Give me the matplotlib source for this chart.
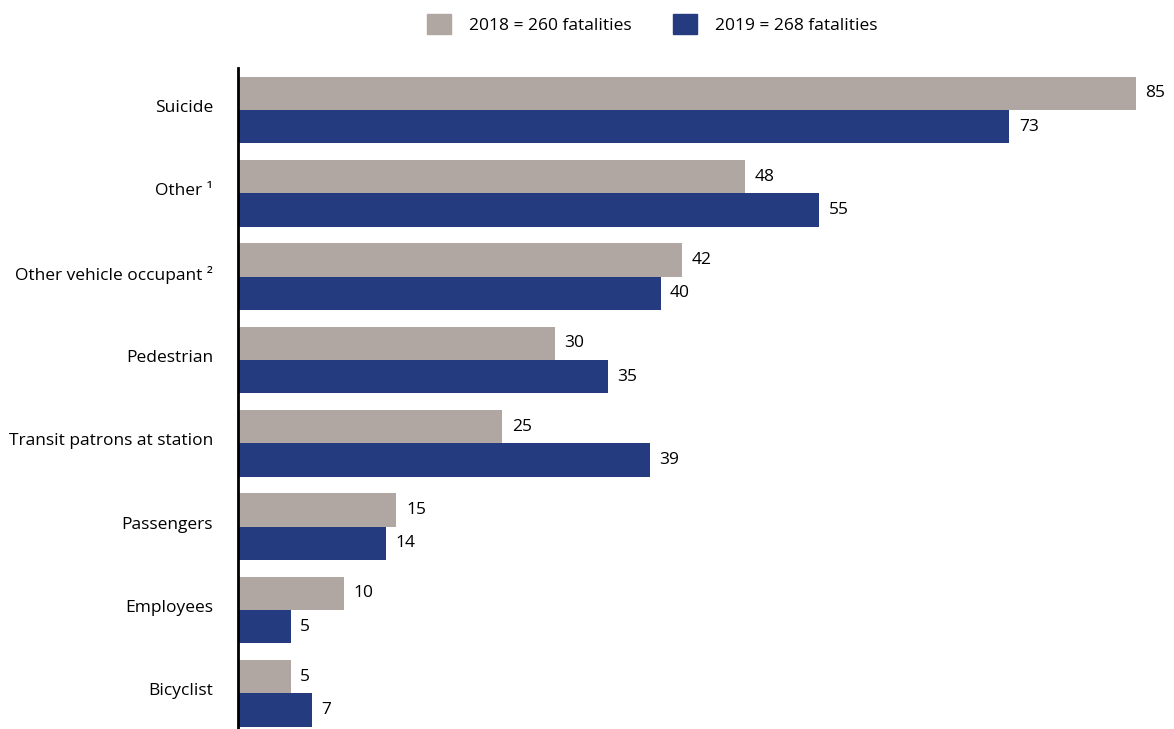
import matplotlib.pyplot as plt
from matplotlib.patches import Patch
from matplotlib.transforms import ScaledTranslation

plt.rcParams["font.family"] = ["Open Sans", "DejaVu Sans"]

# Daten
categories = ["Suicide", "Other \u00b9", "Other vehicle occupant \u00b2", "Pedestrian",
              "Transit patrons at station", "Passengers", "Employees", "Bicyclist"]
values_2018 = [85, 48, 42, 30, 25, 15, 10, 5]
values_2019 = [73, 55, 40, 35, 39, 14, 5, 7]
legend_labels = ["2018 = 260 fatalities", "2019 = 268 fatalities"]

gray = "#b1a7a2"
blue = "#253b80"

fig = plt.figure(figsize=(11.74, 7.29), dpi=100)
ax = fig.add_axes([238 / 1174, 0, 1 - 238 / 1174, 1 - 68 / 729])

pos = list(range(len(categories)))
h = 0.4
ax.barh([p - h / 2 for p in pos], values_2018, height=h, color=gray)
ax.barh([p + h / 2 for p in pos], values_2019, height=h, color=blue)

for p, v in zip(pos, values_2018):
    ax.text(v + 0.9, p - h / 2, str(v), va="center", ha="left", fontsize=12.5)
for p, v in zip(pos, values_2019):
    ax.text(v + 0.9, p + h / 2, str(v), va="center", ha="left", fontsize=12.5)

ax.set_xlim(0, 936 / 10.565)
ax.set_ylim(7.43, -0.504)
ax.set_yticks(pos)
ax.set_yticklabels(categories, fontsize=12.5)
ax.tick_params(axis="y", length=0, pad=18)
# Beschriftungen leicht nach oben
shift = ScaledTranslation(0, 4 / 100, fig.dpi_scale_trans)
for lbl in ax.get_yticklabels():
    lbl.set_transform(lbl.get_transform() + shift)
ax.set_xticks([])
for s in ["top", "right", "bottom"]:
    ax.spines[s].set_visible(False)
ax.spines["left"].set_linewidth(2)
ax.spines["left"].set_color("black")

handles = [Patch(color=gray), Patch(color=blue)]
fig.legend(handles, legend_labels, loc="center", bbox_to_anchor=(652 / 1174, 1 - 24 / 729),
           ncol=2, frameon=False, fontsize=12.5, handlelength=1.4, handleheight=1.4,
           handletextpad=1.0, columnspacing=2.4)

fig.savefig("out.png", dpi=100)
